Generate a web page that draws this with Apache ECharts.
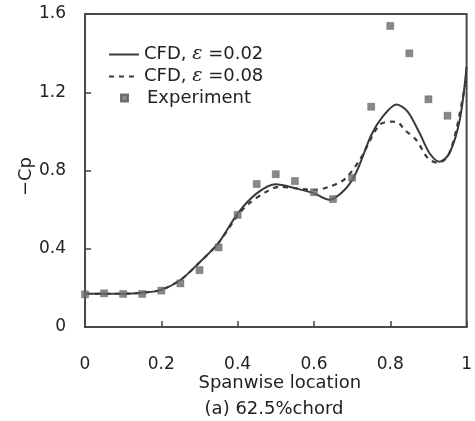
<!DOCTYPE html>
<html>
<head>
<meta charset="utf-8">
<script src="https://cdn.jsdelivr.net/npm/echarts@6/dist/echarts.min.js"></script>
<style>
html,body{margin:0;padding:0;background:#fff;}
#chart{width:475px;height:421px;}
</style>
</head>
<body>
<div id="chart"></div>
<script>
// CFD, eps = 0.02 (solid)
const solidX = [0,0.05,0.1,0.15,0.2,0.25,0.3,0.35,0.4,0.45,0.5,0.55,0.6,0.64,0.68,0.71,0.75,0.78,0.816,0.846,0.877,0.903,0.929,0.955,0.982,1.0];
const solidY = [0.17,0.17,0.17,0.175,0.19,0.24,0.33,0.43,0.58,0.683,0.73,0.71,0.683,0.65,0.70,0.787,0.98,1.075,1.138,1.10,0.99,0.888,0.845,0.888,1.058,1.33];
// CFD, eps = 0.08 (dashed)
const dashX = [0,0.05,0.1,0.15,0.2,0.25,0.3,0.35,0.4,0.43,0.476,0.51,0.55,0.6,0.64,0.68,0.72,0.77,0.8,0.82,0.838,0.868,0.899,0.925,0.95,0.973,1.0];
const dashY = [0.17,0.17,0.17,0.175,0.19,0.24,0.33,0.43,0.57,0.632,0.692,0.717,0.71,0.70,0.717,0.755,0.854,1.03,1.05,1.046,1.007,0.956,0.862,0.84,0.87,1.007,1.28];
// Experiment
const expX = [0,0.05,0.1,0.15,0.2,0.25,0.3,0.35,0.4,0.45,0.5,0.55,0.6,0.65,0.7,0.75,0.8,0.85,0.9,0.95];
const expY = [0.167,0.172,0.169,0.169,0.186,0.223,0.291,0.407,0.573,0.731,0.781,0.746,0.689,0.654,0.763,1.126,1.539,1.399,1.164,1.08];

const xTicks = [0,0.2,0.4,0.6,0.8,1];
const yTicks = [0,0.4,0.8,1.2,1.6];
const names = ['CFD, ε =0.02','CFD, ε =0.08','Experiment'];

const zip = (a,b) => a.map((v,i)=>[v,b[i]]);
const FONT = 'DejaVu Sans';
const TXT = '#222';
const legendFmt = function(n){
  if(n.indexOf('ε')>=0){const p=n.split('ε');return '{a|'+p[0]+'}{e|ε}{a|'+p[1]+'}';}
  return '{b|'+n+'}';
};
const legendText = {color:TXT, fontSize:18, fontFamily:FONT,
  rich:{a:{fontSize:18,fontFamily:FONT,color:TXT},
        b:{fontSize:18,fontFamily:FONT,color:TXT,padding:[0,0,0,14]},
        e:{fontSize:19,fontFamily:'DejaVu Serif',fontStyle:'italic',color:TXT}}};
const chart = echarts.init(document.getElementById('chart'), null, {renderer:'canvas'});
chart.setOption({
  animation:false,
  backgroundColor:'#fff',
  textStyle:{fontFamily:FONT},
  grid:{left:85, top:14, right:8, bottom:94, show:true, borderColor:'#4a4a4a', borderWidth:2},
  title:{text:'(a) 62.5%chord', left:269, top:395, textAlign:'center',
    textStyle:{fontFamily:FONT, fontSize:18, fontWeight:'normal', color:TXT}},
  legend:[
    {orient:'vertical', left:103, top:40, itemWidth:30, itemHeight:14, itemGap:3,
     data:[{name:names[0], itemStyle:{opacity:0}}, {name:names[1], itemStyle:{opacity:0}}],
     formatter:legendFmt, textStyle:legendText},
    {orient:'vertical', left:115, top:84, itemWidth:7, itemHeight:7,
     data:[names[2]], formatter:legendFmt, textStyle:legendText}
  ],
  xAxis:{
    type:'value', min:0, max:1, interval:0.2,
    name:'Spanwise location', nameLocation:'middle', nameGap:47, nameMoveOverlap:false,
    nameTextStyle:{fontFamily:FONT, fontSize:18, color:TXT, padding:[0,0,0,8]},
    axisLine:{show:true, lineStyle:{color:'#4a4a4a', width:2}},
    axisTick:{show:true, inside:true, length:6, lineStyle:{color:'#444', width:1.5}},
    axisLabel:{margin:29, fontSize:17, color:TXT, fontFamily:FONT,
      formatter:function(v){const t=xTicks.find(x=>Math.abs(x-v)<1e-6);return t===undefined?'':String(t);}},
    splitLine:{show:false}
  },
  yAxis:{
    type:'value', min:0, max:1.6, interval:0.4,
    name:'−Cp', nameLocation:'middle', nameGap:50, nameRotate:90, nameMoveOverlap:false,
    nameTextStyle:{fontFamily:FONT, fontSize:18, color:TXT, padding:[0,12,0,0]},
    axisLine:{show:true, lineStyle:{color:'#4a4a4a', width:2}},
    axisTick:{show:true, inside:true, length:6, lineStyle:{color:'#444', width:1.5}},
    axisLabel:{margin:19, fontSize:17, color:TXT, fontFamily:FONT,
      formatter:function(v){const t=yTicks.find(x=>Math.abs(x-v)<1e-6);return t===undefined?'':String(t);}},
    splitLine:{show:false}
  },
  series:[
    {name:names[0], type:'line', data:zip(solidX,solidY), smooth:0.3, symbol:'none', showSymbol:false,
      lineStyle:{color:'#3a3a3a', width:2}, itemStyle:{color:'#3a3a3a'}, z:3},
    {name:names[1], type:'line', data:zip(dashX,dashY), smooth:0.3, symbol:'none', showSymbol:false,
      lineStyle:{color:'#3a3a3a', width:2.2, type:[5,5]}, itemStyle:{color:'#3a3a3a'}, z:3},
    {name:names[2], type:'scatter', data:zip(expX,expY), symbol:'rect', symbolSize:7,
      itemStyle:{color:'#6a6a6a', borderColor:'#555', borderWidth:0.5}, z:4}
  ]
});
</script>
</body>
</html>
